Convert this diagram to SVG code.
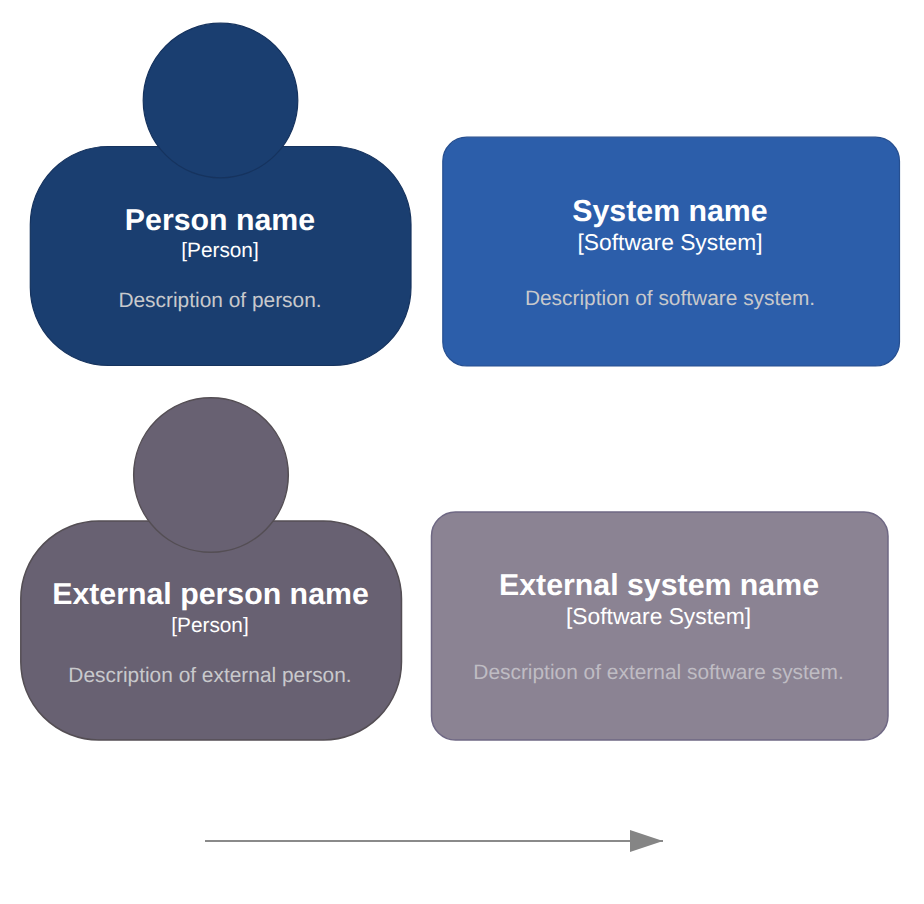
<svg xmlns="http://www.w3.org/2000/svg" width="924" height="904" viewBox="0 0 924 904">
<style>
text{font-family:"Liberation Sans",Arial,sans-serif;text-anchor:middle;text-rendering:geometricPrecision}
.t{font-size:30.300px;font-weight:bold;fill:#fff}
.k{font-size:20.800px;fill:#fff}
.s{font-size:22.800px;fill:#fff}
.d{font-size:20.900px;fill:#c8c9cc}
.x{font-size:20.900px;fill:#bfbcc3}
.p1{fill:#1a3e70;stroke:#16335e;stroke-width:1.200}
.p2{fill:#686172;stroke:#544e54;stroke-width:1.500}
</style>
<defs><marker id="a" markerUnits="userSpaceOnUse" markerWidth="34" markerHeight="22" refX="33" refY="11" orient="auto"><path d="M0 0L33 11L0 22Z" fill="#858585"/></marker></defs>
<rect width="924" height="904" fill="#fff"/>
<g id="person">
<rect class="p1" x="30.300" y="146.500" width="380.700" height="219" rx="78"/>
<circle class="p1" cx="220.500" cy="100.500" r="77.300"/>
<text class="t" x="220" y="229.500">Person name</text><text class="k" x="220" y="257">[Person]</text><text class="d" x="220" y="307">Description of person.</text>
</g>
<g id="system">
<rect x="442.800" y="137.200" width="456.700" height="228.800" rx="24" fill="#2c5eaa" stroke="#264f90" stroke-width="1.200"/>
<text class="t" x="670" y="220.500">System name</text><text class="s" x="670" y="250">[Software System]</text><text class="d" x="670" y="305">Description of software system.</text>
</g>
<g id="external-person">
<rect class="p2" x="20.800" y="521" width="380.700" height="219" rx="78"/>
<circle class="p2" cx="211" cy="475" r="77.300"/>
<text class="t" x="210.500" y="603.500">External person name</text><text class="k" x="210" y="632">[Person]</text><text class="d" x="210" y="682">Description of external person.</text>
</g>
<g id="external-system">
<rect x="431.500" y="512" width="456.500" height="228" rx="24" fill="#8b8393" stroke="#6f6884" stroke-width="1.500"/>
<text class="t" x="659" y="594.500">External system name</text><text class="s" x="658.500" y="624">[Software System]</text><text class="x" x="658.500" y="679">Description of external software system.</text>
</g>
<g id="connectors"><path d="M205 841H663" fill="none" stroke="#8a8a8a" stroke-width="2" marker-end="url(#a)"/></g>
</svg>
